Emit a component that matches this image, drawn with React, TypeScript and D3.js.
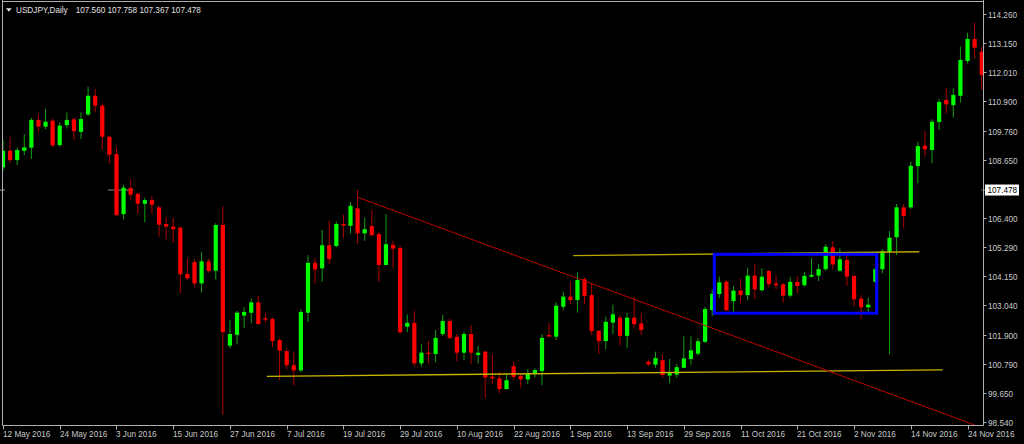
import React from "react";
import * as d3 from "d3";

// ---- data (USDJPY daily, one value per bar, index 0 = 12 May 2016) ----
const openP = [
  108.35, 108.99, 108.63, 108.99, 109.11, 110.18, 109.92, 110.15, 109.21, 109.98,
  110.2, 109.72, 110.39, 111.11, 110.73, 109.53, 108.86, 106.55, 107.55, 107.33,
  106.95, 107.09, 106.81, 106.17, 106.07, 106.03, 104.24, 104.7, 103.88, 104.73,
  104.37, 106.13, 101.48, 101.9, 102.64, 102.75, 103.15, 102.54, 102.51, 101.7,
  101.27, 100.73, 100.53, 102.75, 104.67, 104.46, 105.35, 105.32, 106.17, 106.1,
  106.77, 105.81, 106.09, 105.78, 104.59, 105.36, 105.24, 102.21, 102.36, 100.8,
  101.21, 101.16, 101.93, 102.43, 101.82, 101.21, 101.93, 101.12, 101.25, 100.29,
  100.22, 99.81, 100.69, 100.32, 100.18, 100.41, 100.5, 101.89, 101.83, 102.98,
  103.37, 103.24, 104.04, 103.43, 102.06, 101.66, 102.37, 102.56, 101.86, 102.56,
  102.34, 100.86, 100.75, 100.92, 100.33, 100.37, 100.63, 100.97, 101.17, 101.63,
  102.85, 103.47, 103.94, 103.2, 103.6, 103.43, 104.18, 103.62, 104.36, 103.88,
  103.84, 103.41, 103.94, 103.81, 104.14, 104.18, 104.43, 105.27, 104.37, 104.78,
  104.17, 103.29, 102.96, 103.94, 104.43, 105.09, 105.66, 106.81, 106.81, 108.4,
  109.19, 109.02, 110.1, 110.95, 110.75, 111.11, 112.45, 113.3, 112.81,
];
const highP = [
  109.4, 109.53, 109.11, 109.62, 110.26, 110.41, 110.6, 110.24, 110.09, 110.47,
  110.28, 110.47, 111.46, 111.36, 110.82, 109.57, 109.12, 107.67, 107.9, 107.39,
  107.19, 107.25, 106.86, 106.43, 106.4, 106.03, 104.82, 104.82, 105.08, 104.82,
  106.2, 106.84, 102.47, 102.82, 102.96, 103.3, 103.39, 102.74, 102.57, 101.77,
  101.38, 101.25, 102.89, 104.97, 104.87, 105.94, 106.3, 106.26, 106.54, 107.02,
  107.48, 106.41, 106.71, 105.87, 106.55, 105.51, 105.35, 102.69, 102.81, 101.54,
  101.66, 102.08, 102.66, 102.51, 101.93, 102.02, 102.28, 101.47, 101.28, 101.15,
  100.47, 100.41, 100.88, 100.37, 100.58, 100.61, 101.93, 102.36, 103.15, 103.56,
  103.97, 104.3, 104.11, 103.86, 102.06, 102.6, 103.06, 102.66, 102.75, 103.35,
  102.75, 100.94, 101.25, 101.12, 100.97, 100.77, 101.84, 101.84, 101.77, 102.98,
  103.65, 104.14, 104.01, 103.78, 104.07, 104.48, 104.63, 104.46, 104.39, 104.18,
  103.9, 104.11, 104.16, 104.33, 104.85, 104.63, 105.39, 105.51, 105.23, 104.97,
  104.17, 103.43, 103.33, 104.51, 105.19, 105.9, 106.94, 106.94, 108.57, 109.34,
  109.75, 110.2, 110.99, 111.4, 111.4, 113.0, 113.54, 113.92, 113.0,
];
const lowP = [
  108.22, 108.51, 108.44, 108.82, 108.68, 109.69, 109.82, 109.12, 109.15, 109.85,
  109.4, 109.44, 110.33, 110.47, 109.05, 108.49, 106.48, 106.35, 107.12, 106.58,
  106.23, 106.55, 105.68, 105.58, 105.46, 103.5, 104.03, 103.75, 103.53, 104.29,
  104.03, 98.81, 101.38, 101.53, 102.15, 102.34, 102.31, 102.36, 101.44, 100.15,
  100.57, 99.96, 100.45, 102.4, 103.88, 103.94, 104.61, 105.27, 105.62, 105.81,
  105.4, 105.52, 105.7, 103.94, 104.59, 104.46, 101.93, 102.0, 100.67, 100.67,
  100.8, 100.84, 101.86, 101.73, 100.89, 100.93, 100.77, 100.8, 99.45, 99.99,
  99.64, 99.8, 100.15, 99.87, 100.01, 100.26, 99.96, 101.83, 101.7, 102.85,
  103.06, 102.75, 103.08, 101.89, 101.16, 101.35, 101.93, 101.51, 101.38, 102.19,
  101.89, 100.69, 100.63, 100.24, 100.03, 100.24, 100.61, 100.75, 101.1, 101.58,
  102.62, 103.31, 102.79, 102.79, 103.14, 103.24, 103.29, 103.56, 103.73, 103.65,
  103.14, 103.33, 103.5, 103.75, 104.1, 103.97, 104.36, 104.43, 104.33, 103.78,
  103.01, 102.51, 102.79, 103.89, 104.27, 101.15, 104.97, 106.0, 106.75, 107.74,
  108.76, 108.51, 109.79, 110.43, 110.27, 110.84, 112.36, 112.55, 111.33,
];
const closeP = [
  108.99, 108.63, 109.02, 109.12, 110.18, 109.92, 110.11, 109.2, 109.96, 110.18,
  109.75, 110.21, 111.11, 110.73, 109.53, 108.84, 106.51, 107.57, 107.3, 106.95,
  107.09, 106.91, 106.14, 106.07, 105.97, 104.23, 104.07, 103.88, 104.73, 104.36,
  106.13, 102.0, 101.93, 102.75, 102.78, 103.15, 102.31, 102.48, 101.66, 101.29,
  100.73, 100.53, 102.78, 104.67, 104.42, 105.35, 104.82, 106.17, 106.12, 106.87,
  105.81, 105.97, 105.74, 104.59, 105.39, 105.22, 102.0, 102.36, 100.8, 101.21,
  101.16, 101.78, 102.43, 101.78, 101.21, 101.93, 101.21, 101.21, 100.26, 100.22,
  99.81, 100.15, 100.28, 100.18, 100.41, 100.54, 101.78, 101.85, 103.02, 103.37,
  103.24, 104.01, 103.39, 102.04, 101.66, 102.4, 102.69, 101.86, 102.56, 102.31,
  102.08, 100.76, 101.0, 100.35, 100.43, 100.65, 100.99, 101.3, 101.65, 102.89,
  103.48, 103.92, 102.85, 103.6, 103.43, 104.18, 103.65, 104.14, 103.85, 103.81,
  103.41, 103.94, 103.78, 104.17, 104.21, 104.43, 105.29, 104.61, 104.81, 104.14,
  103.27, 102.96, 103.06, 104.43, 105.13, 105.64, 106.81, 106.48, 108.41, 109.17,
  109.05, 110.11, 110.87, 110.78, 111.14, 112.49, 113.3, 112.96, 111.91,
];

const dateLabels = [
  "12 May 2016", "24 May 2016", "3 Jun 2016", "15 Jun 2016", "27 Jun 2016",
  "7 Jul 2016", "19 Jul 2016", "29 Jul 2016", "10 Aug 2016", "22 Aug 2016",
  "1 Sep 2016", "13 Sep 2016", "29 Sep 2016", "11 Oct 2016", "21 Oct 2016",
  "2 Nov 2016", "14 Nov 2016", "24 Nov 2016",
];
const dateLabelStep = 8;

const priceLabels = [
  "114.260", "113.150", "112.010", "110.900", "109.760", "108.650",
  "106.400", "105.290", "104.150", "103.040", "101.900", "100.790",
  "99.650", "98.540",
];

const symbolName = "USDJPY,Daily";
const lastOHLC = ["107.560", "107.758", "107.367", "107.478"];
const bidPrice = 107.478;

// drawn objects (bar index, price)
const redTrend = [[50.0, 107.2], [137.06, 98.42]];
const upperYellow = [[80.4, 104.95], [129.2, 105.1]];
const lowerYellow = [[37.2, 100.3], [132.5, 100.55]];
const blueBox = { i0: 100.3, i1: 123.2, pTop: 105.0, pBottom: 102.73 };
const bidSegment = [14.8, 18.4];

// ---- layout ----
const W = 1024;
const H = 444;
const plotLeft = 2.5;
const plotTop = 1.5;
const plotRight = 983.5;
const plotBottom = 425.5;

const BULL = "#00ff00";
const BEAR = "#ff0000";
const BULL_WICK = "#10a010";
const BEAR_WICK = "#b00000";
const FG = "#c8c8c8";
const FONT = "'Liberation Sans', Arial, sans-serif";

export default function App() {
  const x = d3.scaleLinear().domain([0, 138]).range([3, 981.7]);
  const y = d3.scaleLinear().domain([98.54, 114.26]).range([422, 14]);
  const bodyW = 4.2;
  const fs = 8.2;

  const candles = openP.map((o, i) => ({
    i,
    o,
    h: highP[i],
    l: lowP[i],
    c: closeP[i],
  }));

  const line = d3
    .line<number[]>()
    .x((d) => x(d[0]))
    .y((d) => y(d[1]));

  return (
    <svg
      width={W}
      height={H}
      style={{ position: "absolute", left: 0, top: 0, background: "#000" }}
    >
      <rect x={0} y={0} width={W} height={H} fill="#000" />
      <defs>
        <clipPath id="plotClip">
          <rect
            x={plotLeft}
            y={plotTop}
            width={plotRight - plotLeft}
            height={plotBottom - plotTop}
          />
        </clipPath>
      </defs>

      {/* bid line fragments */}
      <line x1={0} x2={5} y1={y(bidPrice)} y2={y(bidPrice)} stroke="#808080" strokeWidth={1.2} />
      <line
        x1={x(bidSegment[0])}
        x2={x(bidSegment[1])}
        y1={y(bidPrice)}
        y2={y(bidPrice)}
        stroke="#707070"
        strokeWidth={1.2}
      />

      <g clipPath="url(#plotClip)">
        {candles.map((d) => {
          const up = d.c >= d.o;
          const cx = x(d.i);
          const top = y(Math.max(d.o, d.c));
          const bot = y(Math.min(d.o, d.c));
          return (
            <g key={d.i}>
              <line
                x1={cx}
                x2={cx}
                y1={y(d.h)}
                y2={y(d.l)}
                stroke={up ? BULL_WICK : BEAR_WICK}
                strokeWidth={1}
              />
              <rect
                x={cx - bodyW / 2}
                y={top}
                width={bodyW}
                height={Math.max(1.5, bot - top)}
                fill={up ? BULL : BEAR}
              />
            </g>
          );
        })}

        <path d={line(lowerYellow) || ""} stroke="#c8b400" strokeWidth={1.3} fill="none" />
        <path d={line(upperYellow) || ""} stroke="#b8a400" strokeWidth={1.3} fill="none" />
        <path d={line(redTrend) || ""} stroke="#c00000" strokeWidth={1} fill="none" />
        <rect
          x={x(blueBox.i0)}
          y={y(blueBox.pTop)}
          width={x(blueBox.i1) - x(blueBox.i0)}
          height={y(blueBox.pBottom) - y(blueBox.pTop)}
          fill="none"
          stroke="#0000ff"
          strokeWidth={3}
        />
      </g>

      {/* frame */}
      <line x1={plotLeft} x2={plotLeft} y1={0} y2={plotBottom} stroke="#b0b0b0" />
      <line x1={plotLeft} x2={plotRight} y1={plotTop} y2={plotTop} stroke="#b0b0b0" />
      <line x1={plotRight} x2={plotRight} y1={0} y2={plotBottom} stroke="#b0b0b0" />
      <line x1={plotLeft} x2={plotRight} y1={plotBottom} y2={plotBottom} stroke="#b0b0b0" />

      {/* header */}
      <path d="M6,8.3 L11.7,8.3 L8.85,11.7 Z" fill="#e8e8e8" />
      <text x={16} y={12.5} fontFamily={FONT} fontSize={fs} fill="#e0e0e0">
        {symbolName}
      </text>
      <text x={75.7} y={12.5} fontFamily={FONT} fontSize={fs} fill="#e0e0e0">
        {lastOHLC.join(" ")}
      </text>

      {/* price axis */}
      {priceLabels.map((p) => {
        const yy = Math.round(y(+p)) + 0.5;
        return (
          <g key={p}>
            <line x1={plotRight} x2={plotRight + 3} y1={yy} y2={yy} stroke="#b0b0b0" />
            <text x={988} y={yy + 3} fontFamily={FONT} fontSize={fs} fill={FG}>
              {p}
            </text>
          </g>
        );
      })}
      <line
        x1={plotRight - 2}
        x2={plotRight + 3}
        y1={y(bidPrice)}
        y2={y(bidPrice)}
        stroke="#909090"
      />
      <rect x={985} y={y(bidPrice) - 5.5} width={34} height={11} fill="#ffffff" />
      <text x={987.5} y={y(bidPrice) + 3} fontFamily={FONT} fontSize={fs} fill="#000">
        {bidPrice.toFixed(3)}
      </text>

      {/* time axis */}
      {dateLabels.map((lab, k) => {
        const xx = Math.round(x(k * dateLabelStep)) + 0.5;
        return (
          <g key={lab}>
            <line x1={xx} x2={xx} y1={plotBottom} y2={plotBottom + 4} stroke="#b0b0b0" />
            <text x={xx - 0.5} y={437} fontFamily={FONT} fontSize={fs} fill={FG}>
              {lab}
            </text>
          </g>
        );
      })}
    </svg>
  );
}
